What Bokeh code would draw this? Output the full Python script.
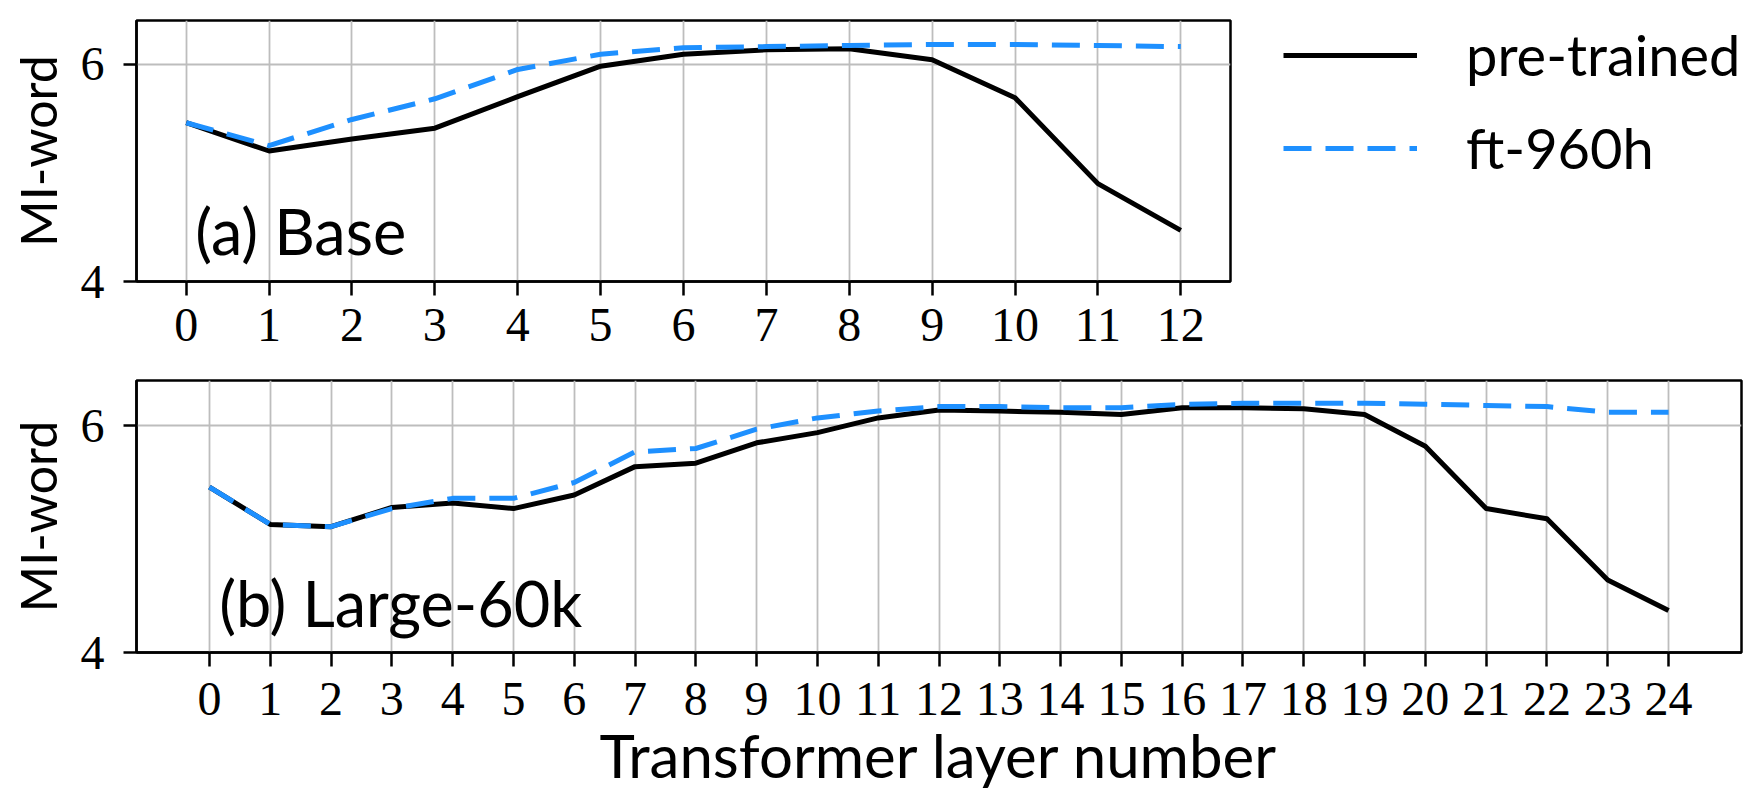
from bokeh.plotting import figure
from bokeh.models import Range1d, FixedTicker, Legend, LegendItem, Label
from bokeh.layouts import row
from bokeh.embed import file_html
from bokeh.resources import INLINE

# ---------------- data ----------------
layers_base = list(range(13))
base_pretrained = [5.46, 5.20, 5.31, 5.41, 5.70, 5.98, 6.09, 6.13, 6.14, 6.04, 5.69, 4.90, 4.47]
base_ft960h = [5.46, 5.25, 5.49, 5.68, 5.95, 6.09, 6.15, 6.16, 6.17, 6.18, 6.18, 6.17, 6.16]

layers_large = list(range(25))
large_pretrained = [5.46, 5.13, 5.11, 5.28, 5.32, 5.27, 5.39, 5.64, 5.67, 5.85, 5.94, 6.07, 6.14,
                    6.13, 6.12, 6.10, 6.16, 6.16, 6.15, 6.10, 5.82, 5.27, 5.18, 4.64, 4.37]
large_ft960h = [5.46, 5.13, 5.11, 5.27, 5.36, 5.36, 5.50, 5.77, 5.80, 5.97, 6.07, 6.13, 6.17,
                6.17, 6.16, 6.16, 6.19, 6.20, 6.20, 6.20, 6.19, 6.18, 6.17, 6.12, 6.12]

x_ticks_base = list(range(13))
x_ticks_large = list(range(25))
y_ticks = [4, 6]
series_names = ["pre-trained", "ft-960h"]
panel_titles = ["(a) Base", "(b) Large-60k"]
y_label = "MI-word"
x_label = "Transformer layer number"

# ---------------- style ----------------
SANS = "Lato"
SERIF = "Liberation Serif"
BLUE = "#1E90FF"
GRID = "#bdbdbd"
BLACK_STYLE = dict(line_color="black", line_width=5, line_join="round")
BLUE_STYLE = dict(line_color=BLUE, line_width=5, line_dash="28 14")


def style(p, xticks):
    p.xaxis.ticker = FixedTicker(ticks=xticks)
    p.yaxis.ticker = FixedTicker(ticks=y_ticks)
    for ax in (p.xaxis, p.yaxis):
        ax.major_label_text_font = SERIF
        ax.major_label_text_font_size = "48px"
        ax.major_label_text_color = "black"
        ax.axis_line_width = 2.5
        ax.axis_line_color = "black"
        ax.major_tick_line_width = 2.5
        ax.major_tick_line_color = "black"
        ax.major_tick_in = 0
        ax.minor_tick_line_color = None
        ax.axis_label_text_font = SANS
        ax.axis_label_text_font_style = "normal"
        ax.axis_label_text_color = "black"
    p.xaxis.major_tick_out = 14
    p.yaxis.major_tick_out = 13
    p.yaxis.major_label_standoff = 19
    p.yaxis.axis_label = y_label
    p.yaxis.axis_label_text_font_size = "50px"
    p.yaxis.axis_label_standoff = 10
    p.outline_line_color = "black"
    p.outline_line_width = 2.5
    p.grid.grid_line_color = GRID
    p.grid.grid_line_width = 1.8
    p.background_fill_color = "white"
    p.border_fill_color = "white"


# ---------------- top panel ----------------
top = figure(width=1232, height=353, output_backend="svg", toolbar_location=None,
             x_range=Range1d(-0.6, 12.6), y_range=Range1d(4, 6.4),
             min_border_left=136, min_border_right=2, min_border_top=20, min_border_bottom=72)
style(top, x_ticks_base)
top.xaxis.major_label_standoff = 13
top.line(layers_base, base_pretrained, **BLACK_STYLE)
top.line(layers_base, base_ft960h, **BLUE_STYLE)
top.add_layout(Label(x=0.11, y=4.47, text=panel_titles[0], text_font=SANS, text_font_size="63px",
                     text_baseline="alphabetic", text_color="black"))

# ---------------- legend panel (to the right of the top panel) ----------------
# the series are drawn here only as legend sources; the y range keeps them out of view
leg = figure(width=1747 - 1232, height=353, output_backend="svg", toolbar_location=None,
             x_axis_type=None, y_axis_type=None, x_range=Range1d(0, 1), y_range=Range1d(0, 1),
             min_border_left=0, min_border_right=0, min_border_top=20, min_border_bottom=72)
leg.outline_line_color = None
leg.grid.visible = False
leg.background_fill_color = "white"
leg.border_fill_color = "white"
src_black = leg.line(layers_base, base_pretrained, **BLACK_STYLE)
src_blue = leg.line(layers_base, base_ft960h, **BLUE_STYLE)
legend = Legend(items=[LegendItem(label=series_names[0], renderers=[src_black]),
                       LegendItem(label=series_names[1], renderers=[src_blue])],
                location=(51, 100), orientation="vertical", glyph_width=134, glyph_height=60,
                label_height=60, label_standoff=49, spacing=26, padding=0, margin=0,
                border_line_alpha=0, background_fill_alpha=0,
                label_text_font=SANS, label_text_font_size="56px", label_text_color="black")
leg.add_layout(legend, "center")

# ---------------- bottom panel ----------------
bottom = figure(width=1747, height=441, output_backend="svg", toolbar_location=None,
                x_range=Range1d(-1.2, 25.2), y_range=Range1d(4, 6.4),
                min_border_left=136, min_border_right=6, min_border_top=27, min_border_bottom=142)
style(bottom, x_ticks_large)
bottom.xaxis.major_label_standoff = 16
bottom.xaxis.axis_label = x_label
bottom.xaxis.axis_label_text_font_size = "60px"
bottom.xaxis.axis_label_standoff = 1
bottom.line(layers_large, large_pretrained, **BLACK_STYLE)
bottom.line(layers_large, large_ft960h, **BLUE_STYLE)
bottom.add_layout(Label(x=0.16, y=4.44, text=panel_titles[1], text_font=SANS, text_font_size="63px",
                        text_baseline="alphabetic", text_color="black"))

open("out.html", "w").write(file_html([row(top, leg, spacing=0), bottom], INLINE))
